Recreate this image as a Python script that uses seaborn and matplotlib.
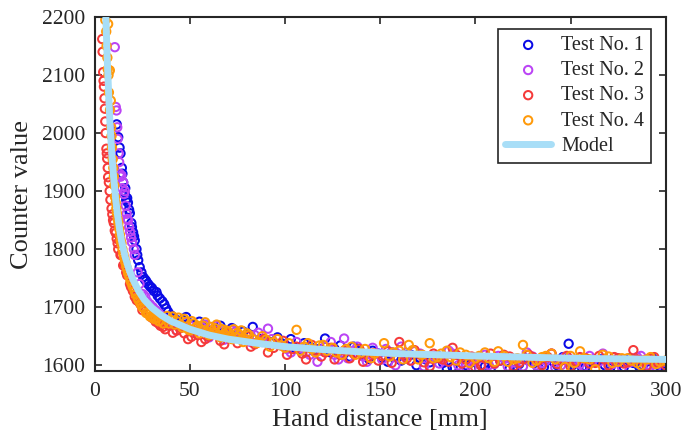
import numpy as np
import pandas as pd
import matplotlib
matplotlib.use("Agg")
import matplotlib.pyplot as plt
import seaborn as sns

# ---------------------------------------------------------------
# data (hand distance [mm] -> counter value)
# ---------------------------------------------------------------
test1_x = [11.5, 12.3, 13.0, 13.5, 14.2, 14.9, 15.8, 16.5, 17.4, 18.4, 19.2, 20.1,
           21.0, 21.9, 22.8, 23.6, 25.4, 26.3, 28.0, 30.0, 32.4, 34.2, 36.5, 38.5,
           42, 46, 48, 52, 55, 58, 62, 66, 70, 74, 78, 83, 87, 92, 96, 100, 105,
           110, 115, 121, 126, 131, 136, 141, 146, 151, 156, 161, 166, 171, 176,
           181, 185, 190, 195, 200, 205, 210, 215, 218, 223, 228, 233, 238, 243,
           249, 253, 258, 263, 268, 273, 278, 283, 288, 293, 297, 300]
test1_y = [2015, 1993, 1975, 1965, 1940, 1915, 1898, 1885, 1880, 1862, 1845, 1829,
           1815, 1800, 1781, 1769, 1752, 1748, 1740, 1733, 1726, 1715, 1705, 1692,
           1680, 1678, 1683, 1670, 1675, 1665, 1660, 1668, 1655, 1650, 1658, 1666,
           1645, 1640, 1648, 1635, 1630, 1638, 1625, 1646, 1628, 1620, 1632, 1618,
           1625, 1612, 1622, 1608, 1618, 1612, 1605, 1615, 1594, 1608, 1600, 1610,
           1598, 1605, 1612, 1594, 1602, 1608, 1596, 1610, 1600, 1637, 1605, 1598,
           1608, 1600, 1606, 1597, 1604, 1600, 1612, 1598, 1594]
test1_x_more = [14.5, 16.0, 17.0, 18.0, 19.5, 20.6, 22.3, 24.5, 27, 29, 31, 33, 35.5,
                37.5, 40,
                44, 50, 57, 64, 68, 72, 81, 90, 98, 103, 108, 113, 118, 124, 129, 134,
                139, 144, 149, 154, 159, 164, 169, 174, 179, 183, 188, 193, 198, 203,
                208, 213, 221, 226, 231, 236, 241, 246, 251, 256, 261, 266, 271, 276,
                281, 286, 291, 295, 299]
test1_y_more = [1930, 1905, 1888, 1868, 1838, 1822, 1790, 1760, 1745, 1736, 1728, 1720,
                1710, 1698, 1686,
                1676, 1672, 1668, 1662, 1650, 1664, 1652, 1642, 1638, 1645, 1626, 1632,
                1628, 1622, 1634, 1615, 1624, 1611, 1620, 1606, 1614, 1618, 1600, 1610,
                1612, 1604, 1597, 1612, 1605, 1600, 1594, 1608, 1598, 1612, 1604, 1597,
                1606, 1614, 1600, 1596, 1606, 1610, 1597, 1604, 1612, 1598, 1607, 1602,
                1596]

test2_x = [10.5, 11.0, 11.4, 11.8, 12.5, 13.1, 14.0, 14.9, 15.8, 16.7, 17.5, 18.5,
           19.5, 21.0, 22.5, 24.5, 26.5, 29.0, 32.0, 35.0, 38.0,
           41, 45, 50, 54, 58, 62, 66, 70, 74, 79, 84, 88, 91, 96, 101, 106, 111,
           117, 121, 126, 131, 136, 141, 146, 151, 156, 161, 166, 171, 176, 181,
           186, 191, 195, 200, 205, 210, 215, 220, 225, 230, 235, 240, 245, 250,
           255, 260, 265, 270, 275, 280, 285, 290, 295, 299]
test2_y = [2148, 2045, 2039, 2010, 1965, 1930, 1927, 1915, 1900, 1861, 1850, 1830,
           1812, 1790, 1760, 1723, 1718, 1705, 1695, 1685, 1675,
           1672, 1665, 1668, 1660, 1670, 1655, 1662, 1650, 1658, 1645, 1652, 1640,
           1663, 1636, 1628, 1640, 1622, 1606, 1632, 1618, 1646, 1625, 1615, 1630,
           1610, 1622, 1632, 1608, 1620, 1612, 1603, 1625, 1600, 1597, 1608, 1618,
           1602, 1612, 1605, 1598, 1615, 1604, 1620, 1600, 1610, 1602, 1616, 1606,
           1598, 1612, 1604, 1614, 1600, 1596, 1606]
test2_x_more = [12.0, 12.8, 13.6, 14.4, 15.3, 16.2, 17.0, 18.0, 19.0, 20.5, 23.5, 25.5,
                27.5, 30.5, 33.5, 36.5,
                43, 48, 52, 56, 60, 64, 68, 72, 77, 82, 86, 93, 98, 103, 108, 113, 119,
                124, 128, 133, 138, 143, 148, 153, 158, 163, 168, 173, 178, 183, 188,
                193, 198, 202, 207, 212, 217, 222, 227, 232, 237, 242, 247, 252, 257,
                262, 267, 272, 277, 282, 287, 292, 297]
test2_y_more = [1990, 1950, 1925, 1905, 1895, 1875, 1852, 1838, 1820, 1800, 1740, 1722,
                1710, 1700, 1690, 1680,
                1660, 1674, 1656, 1666, 1648, 1668, 1644, 1660, 1650, 1640, 1656, 1645,
                1634, 1622, 1630, 1618, 1625, 1640, 1610, 1612, 1632, 1606, 1620, 1628,
                1600, 1614, 1624, 1598, 1616, 1608, 1620, 1604, 1596, 1612, 1600, 1616,
                1598, 1610, 1622, 1600, 1608, 1596, 1614, 1604, 1598, 1610, 1620, 1602,
                1596, 1606, 1616, 1598, 1604]

test3_x = [3.9, 4.4, 4.8, 5.3, 5.7, 6.1, 6.5, 7.0, 7.8, 8.8, 9.6, 10.5, 11.5, 12.3,
           13.1, 14.0, 14.9, 15.8, 17.0, 18.5, 20.0, 22.0, 24.0, 26.3, 28.9, 31.0,
           33.5, 35.9,
           39, 43, 47, 50.8, 54, 58, 62, 66, 70, 75, 80, 84, 89, 94, 99, 104, 109,
           114, 119, 124, 129, 134, 139, 144, 149, 154, 160, 164, 168, 173, 178,
           183, 188, 193, 198, 203, 208, 213, 218, 223, 228, 233, 238, 243, 248,
           253, 258, 263, 268, 273, 278, 283, 288, 292, 296, 300]
test3_y = [2162, 2105, 2080, 2042, 2000, 1973, 1956, 1924, 1900, 1870, 1850, 1832,
           1818, 1800, 1815, 1790, 1772, 1772, 1755, 1740, 1728, 1712, 1705, 1700,
           1689, 1680, 1672, 1666,
           1668, 1660, 1655, 1649, 1652, 1645, 1660, 1642, 1655, 1638, 1650, 1636,
           1645, 1630, 1642, 1628, 1620, 1635, 1615, 1630, 1618, 1612, 1628, 1615,
           1608, 1624, 1640, 1612, 1626, 1605, 1620, 1610, 1630, 1603, 1615, 1600,
           1620, 1608, 1615, 1604, 1618, 1608, 1614, 1602, 1616, 1606, 1612, 1604,
           1610, 1614, 1603, 1626, 1608, 1612, 1604, 1600]
test3_x_more = [4.1, 4.6, 5.1, 5.5, 6.3, 6.8, 7.4, 8.2, 9.2, 10.0, 11.0, 12.0, 13.5,
                16.5, 19.0, 21.0, 23.0, 25.0, 27.5, 30.0, 32.0, 34.5,
                37, 41, 45, 49, 52, 56, 60, 64, 68, 72, 77, 82, 86, 91, 96, 101, 106,
                111, 116, 121, 126, 131, 136, 141, 146, 151, 156, 162, 166, 171, 176,
                181, 186, 190, 195, 200, 205, 210, 215, 220, 225, 230, 235, 240, 245,
                250, 255, 260, 265, 270, 275, 280, 285, 290, 294, 298]
test3_y_more = [2140, 2090, 2060, 2020, 1965, 1940, 1915, 1885, 1860, 1845, 1828, 1810,
                1790, 1760, 1735, 1718, 1710, 1695, 1690, 1682, 1675, 1668,
                1662, 1656, 1664, 1645, 1660, 1640, 1650, 1654, 1636, 1648, 1645, 1632,
                1640, 1622, 1636, 1618, 1632, 1610, 1626, 1622, 1610, 1625, 1620, 1606,
                1620, 1616, 1604, 1618, 1608, 1618, 1598, 1612, 1606, 1618, 1610, 1596,
                1612, 1603, 1618, 1598, 1610, 1614, 1600, 1620, 1608, 1598, 1614, 1603,
                1616, 1600, 1612, 1605, 1610, 1598, 1614, 1606]

test4_x = [5.5, 6.2, 6.8, 7.0, 7.4, 7.9, 8.4, 8.8, 9.4, 10.0, 10.6, 11.3, 12.0,
           12.8, 13.6, 14.5, 15.5, 16.5, 17.5, 18.8, 20.0, 21.5, 23.0, 25.0, 27.0,
           29.0, 31.0, 33.5, 36.0,
           38, 40, 42, 44, 46, 48, 50, 52, 55, 57, 60, 63, 66, 69, 72, 75, 78, 81,
           85, 88, 92, 96, 100, 106, 108, 112, 116, 120, 125, 130, 135, 140, 145,
           152, 155, 160, 165, 170, 176, 180, 185, 190, 195, 200, 205, 210, 215,
           220, 225, 230, 235, 240, 247, 250, 255, 260, 263, 270, 275, 280, 285,
           290, 295, 300]
test4_y = [2195, 2150, 2110, 2188, 2070, 2108, 2056, 1995, 1955, 1925, 1890, 1870,
           1852, 1835, 1815, 1800, 1785, 1770, 1758, 1745, 1735, 1722, 1712, 1700,
           1690, 1684, 1680, 1676, 1672,
           1685, 1678, 1670, 1682, 1665, 1675, 1660, 1672, 1655, 1668, 1652, 1664,
           1648, 1660, 1645, 1656, 1640, 1652, 1638, 1650, 1632, 1645, 1630, 1661,
           1625, 1638, 1622, 1635, 1630, 1618, 1632, 1622, 1612, 1638, 1615, 1625,
           1635, 1610, 1638, 1614, 1625, 1608, 1618, 1612, 1622, 1606, 1616, 1610,
           1635, 1604, 1614, 1620, 1597, 1616, 1624, 1610, 1593, 1615, 1606, 1612,
           1604, 1610, 1602, 1608]
test4_x_more = [6.0, 6.6, 7.2, 8.0, 8.6, 9.0, 9.7, 10.3, 11.0, 11.6, 12.4, 13.2, 14.0,
                15.0, 16.0, 17.0, 18.2, 19.5, 21.0, 22.5, 24.0, 26.0, 28.0, 30.0, 32.0,
                34.0,
                39, 41, 43, 45, 47, 49, 51, 53, 54, 56, 58, 59, 61, 62, 64, 65, 67, 68,
                70, 71, 73, 74, 76, 77, 79, 80, 83, 86, 90, 94, 98, 102, 110, 114, 118,
                122, 127, 132, 137, 142, 147, 157, 162, 167, 172, 178, 182, 187, 192,
                197, 202, 207, 212, 217, 222, 227, 232, 237, 242, 252, 257, 267, 272,
                277, 282, 287, 292, 297]
test4_y_more = [2175, 2130, 2100, 2040, 2010, 1975, 1940, 1910, 1880, 1862, 1845, 1825,
                1810, 1792, 1778, 1765, 1752, 1740, 1728, 1716, 1706, 1698, 1690, 1684,
                1680, 1676,
                1672, 1684, 1676, 1670, 1680, 1662, 1676, 1664, 1668, 1660, 1674, 1658,
                1666, 1656, 1670, 1652, 1662, 1654, 1658, 1650, 1662, 1648, 1652, 1660,
                1646, 1655, 1645, 1640, 1644, 1640, 1634, 1638, 1632, 1628, 1634, 1625,
                1622, 1628, 1618, 1628, 1620, 1622, 1610, 1626, 1618, 1612, 1620, 1614,
                1622, 1604, 1616, 1612, 1624, 1606, 1612, 1618, 1608, 1616, 1610, 1604,
                1612, 1618, 1604, 1612, 1608, 1600, 1614, 1606]

model_x = [5.5, 6, 6.5, 7, 7.5, 8, 9, 10, 11, 12, 13, 14, 16, 18, 20, 23, 26, 30,
           35, 40, 50, 60, 70, 85, 100, 120, 140, 160, 180, 200, 225, 250, 275, 300]
model_y = [2240, 2180, 2130, 2090, 2050, 2015, 1960, 1920, 1885, 1858, 1835, 1815,
           1786, 1765, 1748, 1728, 1713, 1699, 1686, 1676, 1662, 1652, 1645, 1638,
           1632, 1627, 1623, 1620, 1618, 1616, 1614, 1612, 1611, 1610]

series = [
    ("Test No. 1", test1_x + test1_x_more, test1_y + test1_y_more, "#0a0ae6"),
    ("Test No. 2", test2_x + test2_x_more, test2_y + test2_y_more, "#bb44f5"),
    ("Test No. 3", test3_x + test3_x_more, test3_y + test3_y_more, "#f53a3a"),
    ("Test No. 4", test4_x + test4_x_more, test4_y + test4_y_more, "#ff9a0a"),
]

sns.set_style("ticks")
plt.rcParams["font.family"] = ["Liberation Serif", "DejaVu Serif"]

fig = plt.figure(figsize=(6.92, 4.36), dpi=100)
ax = fig.add_axes([0.137, 0.149, 0.825, 0.812])

for name, xs, ys, col in series:
    sns.scatterplot(x=xs, y=ys, ax=ax, marker="o", s=36, facecolor="none",
                    edgecolor=col, linewidth=1.45, label=name, zorder=2)

sns.lineplot(x=model_x, y=model_y, ax=ax, color="#a8def7", linewidth=5.0,
             label="Model", zorder=3)

ax.set_xlim(0, 300)
ax.set_ylim(1590, 2200)
ax.set_xticks(np.arange(0, 301, 50))
ax.set_yticks(np.arange(1600, 2201, 100))
ax.set_xlabel("Hand distance [mm]", fontsize=19, color="#262626", labelpad=6)
ax.set_ylabel("Counter value", fontsize=19, color="#262626", labelpad=6)
ax.tick_params(direction="in", length=5, width=1.2, top=True, right=True,
               labelsize=15.5, colors="#262626", labelcolor="#262626", pad=8)
ax.tick_params(axis="y", pad=7)
for sp in ax.spines.values():
    sp.set_linewidth(1.5)
    sp.set_color("#262626")
    sp.set_visible(True)

leg = ax.legend(loc="upper right", bbox_to_anchor=(0.975, 0.966), borderaxespad=0,
                fontsize=14.5, frameon=True, fancybox=False, framealpha=1,
                edgecolor="#262626", markerscale=1.0, handlelength=2.3,
                labelspacing=0.3, handletextpad=0.5, borderpad=0.35)
leg.get_frame().set_linewidth(1.2)

fig.savefig("out.png", dpi=100)
